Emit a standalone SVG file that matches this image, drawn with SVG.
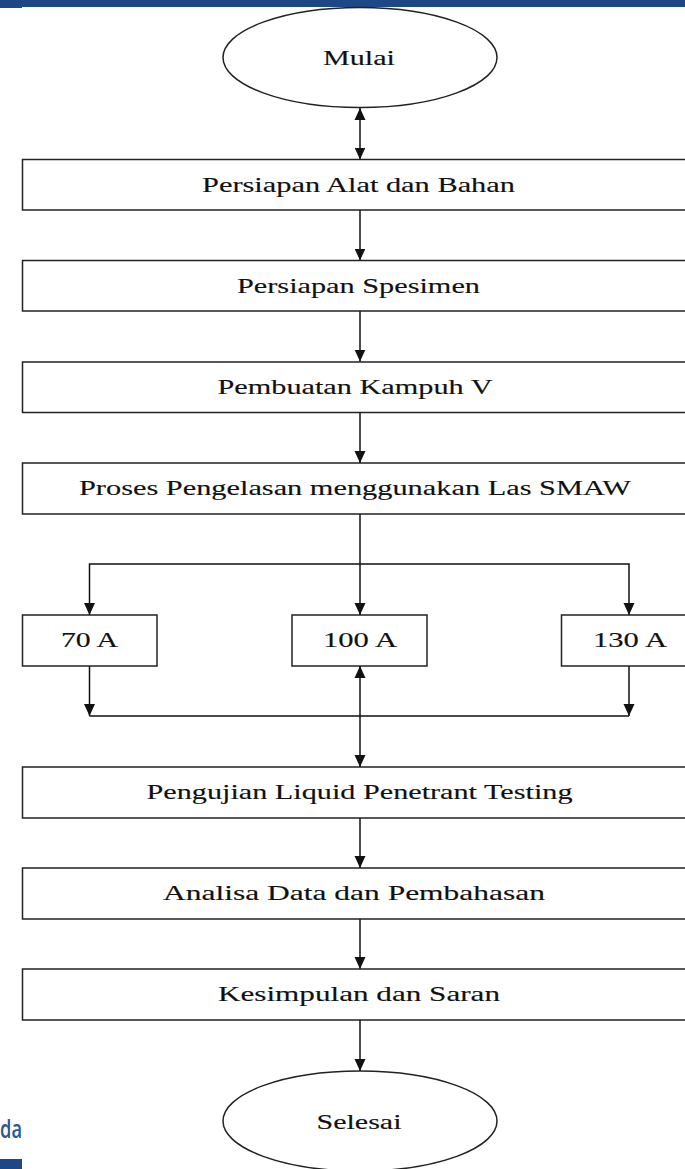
<svg xmlns="http://www.w3.org/2000/svg" width="685" height="1169" viewBox="0 0 685 1169">
  <style>
    .box { fill: #ffffff; stroke: #222222; stroke-width: 1.5; }
    .lbl { font-family: "Liberation Serif", "Times New Roman", serif; font-size: 22px; fill: #111111; stroke: #111111; stroke-width: 0.15; text-anchor: middle; }
    .ln { fill: none; stroke: #111111; stroke-width: 1.5; }
  </style>
  <defs>
    <marker id="ah" markerUnits="userSpaceOnUse" markerWidth="12" markerHeight="12" viewBox="0 0 12 12" refX="12" refY="6" orient="auto">
      <path d="M0,0.5 L12,6 L0,11.5 Z" fill="#111111"/>
    </marker>
    <marker id="ahs" markerUnits="userSpaceOnUse" markerWidth="12" markerHeight="12" viewBox="0 0 12 12" refX="0" refY="6" orient="auto">
      <path d="M12,0.5 L0,6 L12,11.5 Z" fill="#111111"/>
    </marker>
  </defs>
  <rect width="685" height="1169" fill="#ffffff"/>
  <!-- page decoration -->
  <rect x="0" y="0" width="685" height="7" fill="#1d4785"/>
  <rect x="0" y="0" width="22" height="8" fill="#1d4785"/>
  <rect x="0" y="1159" width="22" height="10" fill="#1d4785"/>
  <text x="0" y="1138" font-family="'Open Sans', 'Liberation Sans', sans-serif" font-size="26" font-weight="600" fill="#2c5596" textLength="22" lengthAdjust="spacingAndGlyphs">da</text>

  <g id="connectors">
    <line class="ln" x1="360" y1="108" x2="360" y2="159.5" marker-start="url(#ahs)" marker-end="url(#ah)"/>
    <line class="ln" x1="360" y1="210" x2="360" y2="260.5" marker-end="url(#ah)"/>
    <line class="ln" x1="360" y1="311" x2="360" y2="361.5" marker-end="url(#ah)"/>
    <line class="ln" x1="360" y1="413" x2="360" y2="463" marker-end="url(#ah)"/>
    <line class="ln" x1="360" y1="514" x2="360" y2="615" marker-end="url(#ah)"/>
    <polyline class="ln" points="89.5,615 89.5,564 629,564 629,615" marker-start="url(#ahs)" marker-end="url(#ah)"/>
    <line class="ln" x1="89.5" y1="666" x2="89.5" y2="716" marker-end="url(#ah)"/>
    <line class="ln" x1="629" y1="666" x2="629" y2="716" marker-end="url(#ah)"/>
    <line class="ln" x1="89.5" y1="716" x2="629" y2="716"/>
    <line class="ln" x1="360" y1="666" x2="360" y2="767" marker-start="url(#ahs)" marker-end="url(#ah)"/>
    <line class="ln" x1="360" y1="818" x2="360" y2="868" marker-end="url(#ah)"/>
    <line class="ln" x1="360" y1="919" x2="360" y2="969" marker-end="url(#ah)"/>
    <line class="ln" x1="360" y1="1020" x2="360" y2="1071" marker-end="url(#ah)"/>
  </g>

  <g id="mulai">
    <ellipse class="box" cx="360" cy="57.5" rx="137" ry="50"/>
    <text class="lbl" x="359" y="65" textLength="72" lengthAdjust="spacingAndGlyphs">Mulai</text>
  </g>
  <g id="persiapan-alat">
    <rect class="box" x="22.5" y="159.5" width="700" height="50.5"/>
    <text class="lbl" x="358.5" y="191.5" textLength="313" lengthAdjust="spacingAndGlyphs">Persiapan Alat dan Bahan</text>
  </g>
  <g id="persiapan-spesimen">
    <rect class="box" x="22.5" y="260.5" width="700" height="50.5"/>
    <text class="lbl" x="358.5" y="292.5" textLength="243" lengthAdjust="spacingAndGlyphs">Persiapan Spesimen</text>
  </g>
  <g id="pembuatan-kampuh">
    <rect class="box" x="22.5" y="362" width="700" height="50.5"/>
    <text class="lbl" x="355" y="393.5" textLength="275" lengthAdjust="spacingAndGlyphs">Pembuatan Kampuh V</text>
  </g>
  <g id="proses-pengelasan">
    <rect class="box" x="22.5" y="463" width="700" height="51"/>
    <text class="lbl" x="355" y="495" textLength="552" lengthAdjust="spacingAndGlyphs">Proses Pengelasan menggunakan Las SMAW</text>
  </g>
  <g id="a70">
    <rect class="box" x="22.5" y="615" width="134.5" height="51"/>
    <text class="lbl" x="89.5" y="647" textLength="57" lengthAdjust="spacingAndGlyphs">70 A</text>
  </g>
  <g id="a100">
    <rect class="box" x="292" y="615" width="135" height="51"/>
    <text class="lbl" x="360" y="647" textLength="74" lengthAdjust="spacingAndGlyphs">100 A</text>
  </g>
  <g id="a130">
    <rect class="box" x="561.5" y="615" width="200" height="51"/>
    <text class="lbl" x="630" y="647" textLength="74" lengthAdjust="spacingAndGlyphs">130 A</text>
  </g>
  <g id="pengujian">
    <rect class="box" x="22.5" y="767" width="700" height="51"/>
    <text class="lbl" x="359.5" y="798.5" textLength="426" lengthAdjust="spacingAndGlyphs">Pengujian Liquid Penetrant Testing</text>
  </g>
  <g id="analisa">
    <rect class="box" x="22.5" y="868" width="700" height="51"/>
    <text class="lbl" x="354" y="899.5" textLength="382" lengthAdjust="spacingAndGlyphs">Analisa Data dan Pembahasan</text>
  </g>
  <g id="kesimpulan">
    <rect class="box" x="22.5" y="969" width="700" height="51"/>
    <text class="lbl" x="359" y="1000.5" textLength="282" lengthAdjust="spacingAndGlyphs">Kesimpulan dan Saran</text>
  </g>
  <g id="selesai">
    <ellipse class="box" cx="360" cy="1121" rx="137" ry="50"/>
    <text class="lbl" x="359" y="1129" textLength="85" lengthAdjust="spacingAndGlyphs">Selesai</text>
  </g>
</svg>
